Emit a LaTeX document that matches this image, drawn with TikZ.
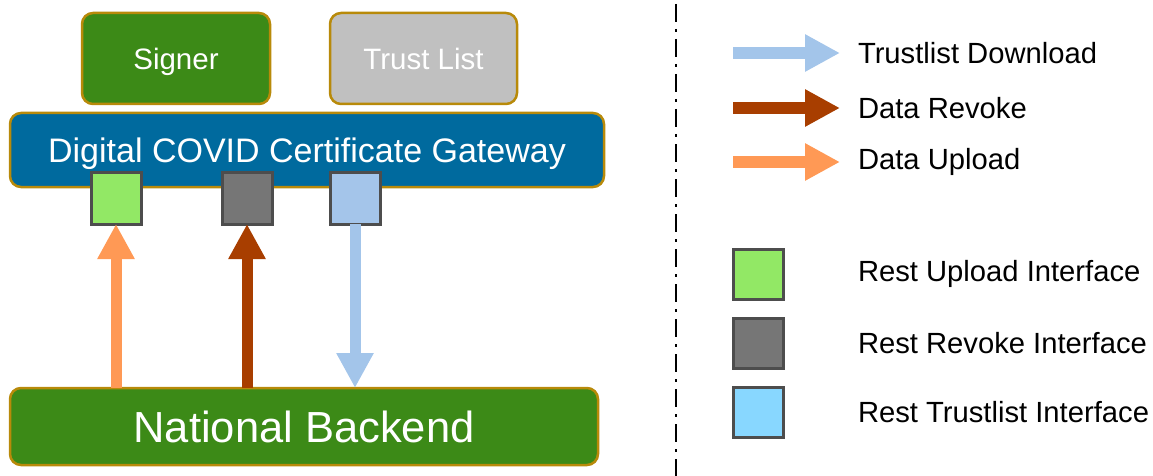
\documentclass[tikz,border=0pt]{standalone}
\usepackage{fontspec}
\setmainfont{Liberation Sans}
\usepackage{tikz}
\usetikzlibrary{arrows.meta,positioning}
\definecolor{signergreen}{HTML}{3C8A17}
\definecolor{boxborder}{HTML}{B88A0A}
\definecolor{listgray}{HTML}{C0C0C0}
\definecolor{gatewayblue}{HTML}{006A9E}
\definecolor{ifgreen}{HTML}{92E865}
\definecolor{ifgray}{HTML}{767676}
\definecolor{ifblue}{HTML}{A4C5EA}
\definecolor{legblue}{HTML}{88D7FF}
\definecolor{sqborder}{HTML}{4D4D4D}
\definecolor{uploadorange}{HTML}{FF9955}
\definecolor{revokebrown}{HTML}{A83E00}
\definecolor{trustblue}{HTML}{A3C5EA}
\tikzstyle{block} = [draw=boxborder, line width=2.5pt, rounded corners=11pt, text=white, inner sep=0pt, outer sep=0pt, text depth=0pt]
\tikzstyle{smallblock} = [block, minimum height=91pt, font=\fontsize{29.5}{33}\selectfont, text height=21.2pt]
\tikzstyle{iface} = [draw=sqborder, line width=3pt, minimum width=50pt, minimum height=52pt, inner sep=0pt, outer sep=0pt]
\tikzstyle{legsquare} = [iface, minimum height=50pt]
\tikzstyle{legtext} = [text=black, inner sep=0pt, outer sep=0pt, font=\fontsize{29.2}{32}\selectfont]
\tikzstyle{flow} = [line width=11pt, -{Triangle[width=35pt,length=35pt]}]
\tikzstyle{legflow} = [flow, line width=12pt]

\begin{document}
\begin{tikzpicture}[x=1pt,y=-1pt]
\useasboundingbox (0,0) rectangle (1153,476);
% left part
\node[smallblock, fill=signergreen, minimum width=188pt] (signer) at (176,58.5) {Signer};
\node[smallblock, fill=listgray, minimum width=187pt] (trustlist) at (423.5,58.5) {Trust List};
\node[block, fill=gatewayblue, minimum width=594pt, minimum height=74pt, font=\fontsize{34}{37}\selectfont, text height=24.5pt] (gateway) at (307,150) {Digital COVID\ Certificate Gateway};
\node[iface, fill=ifgreen] (upif) at (116,198) {};
\node[iface, fill=ifgray] (revif) at (247,198) {};
\node[iface, fill=ifblue] (trif) at (355,198) {};
\node[block, fill=signergreen, minimum width=588pt, minimum height=77pt, font=\fontsize{43.5}{46}\selectfont, text height=31.3pt] (backend) at (304,426.5) {National Backend};
\draw[flow, uploadorange] (backend.north -| upif.south) -- (upif.south);
\draw[flow, revokebrown] (backend.north -| revif.south) -- (revif.south);
\draw[flow, trustblue] (trif.south) -- (backend.north -| trif.south);
% separator
\draw[line width=2.5pt, dash pattern=on 18pt off 7pt on 3pt off 7pt] (676,4) -- (676,476);
% legend
\node[legtext, anchor=west] (ltrust) at (858,53) {Trustlist Download};
\node[legtext, anchor=west] (lrevoke) at (858,108) {Data Revoke};
\node[legtext, anchor=west] (lupload) at (858,162) {Data Upload};
\coordinate (ltrust-s) at (733,53);
\coordinate (lrevoke-s) at (733,108);
\coordinate (lupload-s) at (733,162);
\draw[legflow, trustblue] (ltrust-s) -- ([xshift=-18pt]ltrust.west);
\draw[legflow, revokebrown] (lrevoke-s) -- ([xshift=-18pt]lrevoke.west);
\draw[legflow, uploadorange] (lupload-s) -- ([xshift=-18pt]lupload.west);
\node[legsquare, fill=ifgreen] (lsqup) at (758,274) {};
\node[legsquare, fill=ifgray] (lsqrev) at (758,343) {};
\node[legsquare, fill=legblue] (lsqtr) at (758,412) {};
\node[legtext, right=75pt of lsqup] (lupif) {Rest Upload Interface};
\node[legtext, right=75pt of lsqrev] (lrevif) {Rest Revoke Interface};
\node[legtext, right=75pt of lsqtr] (ltrif) {Rest Trustlist Interface};
\end{tikzpicture}
\end{document}
